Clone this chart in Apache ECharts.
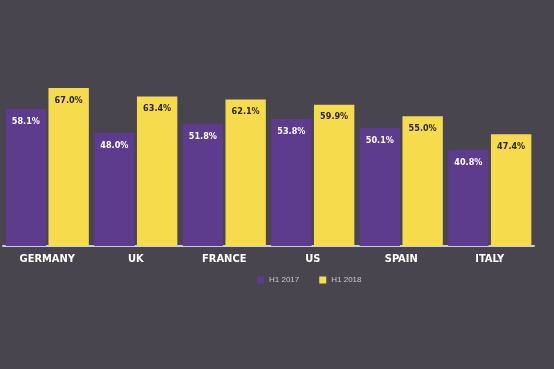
<!DOCTYPE html>
<html><head><meta charset="utf-8">
<script src="https://cdn.jsdelivr.net/npm/echarts@6/dist/echarts.min.js"></script>
<style>html,body{margin:0;padding:0;background:#48454f}#c{width:554px;height:369px}</style>
</head><body><div id="c"></div>
<script>
const categories = ['GERMANY','UK','FRANCE','US','SPAIN','ITALY'];
const seriesNames = ['H1 2017','H1 2018'];
const h1_2017 = [58.1, 48.0, 51.8, 53.8, 50.1, 40.8];
const h1_2018 = [67.0, 63.4, 62.1, 59.9, 55.0, 47.4];

const chart = echarts.init(document.getElementById('c'));
const lbl = (color) => ({
  show: true, position: 'insideTop', distance: 8,
  formatter: p => p.value.toFixed(1) + '%',
  color: color, fontSize: 9, fontWeight: 'bold', fontFamily: "'DejaVu Sans Condensed', 'Liberation Sans', sans-serif"
});
chart.setOption({
  backgroundColor: '#48454f',
  animation: false,
  grid: { left: 3, right: 20, top: 10, bottom: 123, containLabel: false },
  legend: {
    data: seriesNames, left: 252, top: 271, itemWidth: 7, itemHeight: 7, itemGap: 20,
    icon: 'rect',
    textStyle: { color: '#c9c6d0', fontSize: 8, fontFamily: "'Liberation Sans', sans-serif" }
  },
  xAxis: {
    type: 'category', data: categories,
    axisLine: { lineStyle: { color: '#cfc8ea', width: 2 } },
    axisTick: { show: false },
    axisLabel: { color: '#ffffff', fontSize: 11, fontWeight: 'bold', fontFamily: "'DejaVu Sans Condensed', 'Liberation Sans', sans-serif", margin: 8 }
  },
  yAxis: { type: 'value', min: 0, max: 100, show: false, splitLine: { show: false } },
  series: [
    { name: seriesNames[0], type: 'bar', data: h1_2017, barGap: '6%', barCategoryGap: '6%',
      itemStyle: { color: '#5d3b8d' }, label: lbl('#ffffff') },
    { name: seriesNames[1], type: 'bar', data: h1_2018,
      itemStyle: { color: '#f6dc4d' }, label: lbl('#2a2520') }
  ]
});
</script></body></html>
